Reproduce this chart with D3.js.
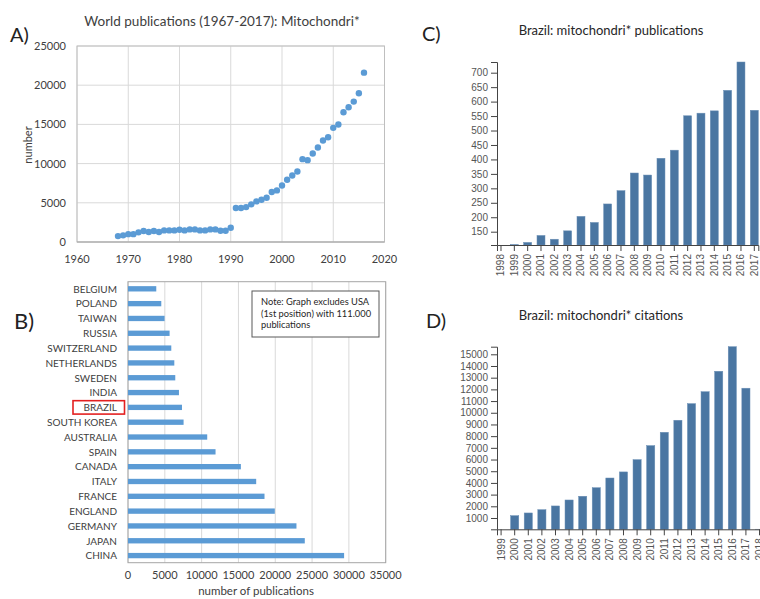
<!DOCTYPE html>
<html><head><meta charset="utf-8">
<script src="https://cdn.jsdelivr.net/npm/d3@7"></script>
<style>
body{margin:0;background:#fff;}
svg{display:block;font-family:Lato,"Open Sans",sans-serif;}
</style></head>
<body><svg id="c" width="760" height="599"></svg>
<script>
// ---- Panel A: world publications per year ----
const worldYears = d3.range(1968, 2017);
const worldCounts = [750,850,1000,1000,1230,1400,1270,1400,1270,1480,1480,1480,1570,1480,1610,1610,1480,1480,1610,1610,1440,1440,1820,
  4330,4330,4450,4800,5180,5390,5650,6370,6580,7210,7940,8490,9000,10570,10440,11290,12050,12940,13370,14560,14980,16550,17190,17910,18970,21600];
const worldXTicks = [1960,1970,1980,1990,2000,2010,2020];
const worldYTicks = [0,5000,10000,15000,20000,25000];

// ---- Panel B: publications by country ----
const countries = ["BELGIUM","POLAND","TAIWAN","RUSSIA","SWITZERLAND","NETHERLANDS","SWEDEN","INDIA","BRAZIL","SOUTH KOREA","AUSTRALIA","SPAIN","CANADA","ITALY","FRANCE","ENGLAND","GERMANY","JAPAN","CHINA"];
const countryCounts = [3840,4520,4970,5650,5880,6290,6420,6920,7330,7550,10760,11890,15330,17410,18540,19940,22880,24010,29350];
const countryTicks = [0,5000,10000,15000,20000,25000,30000,35000];
const noteLines = ["Note: Graph excludes USA","(1st position) with 111.000","publications"];

// ---- Panel C: Brazil publications ----
const brYearsPub = ["1998","1999","2000","2001","2002","2003","2004","2005","2006","2007","2008","2009","2010","2011","2012","2013","2014","2015","2016","2017"];
const brPubs = [104,105,113,137,124,153,203,182,246,292,353,346,404,432,551,560,568,639,737,570];

// ---- Panel D: Brazil citations ----
const brYearsCit = ["1999","2000","2001","2002","2003","2004","2005","2006","2007","2008","2009","2010","2011","2012","2013","2014","2015","2016","2017","2018"];
const brCits = [33,1200,1430,1710,2030,2540,2860,3590,4420,4940,5990,7190,8330,9360,10780,11800,13550,15650,12100,40];

const svg = d3.select("#c");

// ===== Panel A =====
{
  const g = svg.append("g");
  const x = d3.scaleLinear().domain([1960,2020]).range([77,384.5]);
  const y = d3.scaleLinear().domain([0,25000]).range([242,46]);
  g.selectAll("line.vg").data(worldXTicks).join("line")
    .attr("x1",d=>x(d)).attr("x2",d=>x(d)).attr("y1",y(0)).attr("y2",y(25000))
    .attr("stroke","#d9d9d9").attr("stroke-width",1);
  g.selectAll("line.hg").data(worldYTicks).join("line")
    .attr("x1",x(1960)).attr("x2",x(2020)).attr("y1",d=>y(d)).attr("y2",d=>y(d))
    .attr("stroke","#d9d9d9").attr("stroke-width",1);
  g.append("rect").attr("x",x(1960)).attr("y",y(25000)).attr("width",x(2020)-x(1960)).attr("height",y(0)-y(25000))
    .attr("fill","none").attr("stroke","#bfbfbf");
  g.append("line").attr("x1",x(1960)).attr("x2",x(2020)).attr("y1",y(0)).attr("y2",y(0)).attr("stroke","#a6a6a6");
  g.selectAll("text.yt").data(worldYTicks).join("text")
    .attr("x",66).attr("y",d=>y(d)+4).attr("text-anchor","end")
    .attr("font-size",11).attr("fill","#404040").text(d=>d);
  g.selectAll("text.xt").data(worldXTicks).join("text")
    .attr("x",d=>x(d)).attr("y",263).attr("text-anchor","middle")
    .attr("font-size",11).attr("fill","#404040").text(d=>d);
  g.selectAll("circle").data(worldYears).join("circle")
    .attr("cx",d=>x(d)).attr("cy",(d,i)=>y(worldCounts[i])).attr("r",3.2).attr("fill","#5b9bd5");
  g.append("text").attr("transform","translate(32,145) rotate(-90)").attr("text-anchor","middle")
    .attr("font-size",11).attr("fill","#404040").text("number");
  g.append("text").attr("x",222).attr("y",26).attr("text-anchor","middle").attr("font-size",13.5)
    .attr("fill","#404040").text("World publications (1967-2017): Mitochondri*");
  g.append("text").attr("x",10).attr("y",42).attr("font-size",20).attr("fill","#222").text("A)");
}

// ===== Panel B =====
{
  const g = svg.append("g");
  const x = d3.scaleLinear().domain([0,35000]).range([128,385.7]);
  const y = d3.scaleBand().domain(countries).range([281.7,562.7]).paddingInner(0.64).paddingOuter(0.3);
  g.selectAll("line.vg").data(countryTicks).join("line")
    .attr("x1",d=>x(d)).attr("x2",d=>x(d)).attr("y1",281.7).attr("y2",562.7)
    .attr("stroke","#d9d9d9");
  g.append("rect").attr("x",128).attr("y",281.7).attr("width",385.7-128).attr("height",562.7-281.7)
    .attr("fill","none").attr("stroke","#a6a6a6");
  g.selectAll("rect.bar").data(countries).join("rect").attr("class","bar")
    .attr("x",x(0)).attr("y",d=>y(d)).attr("height",y.bandwidth())
    .attr("width",(d,i)=>x(countryCounts[i])-x(0)).attr("fill","#5b9bd5");
  g.selectAll("text.lab").data(countries).join("text")
    .attr("x",117).attr("y",d=>y(d)+y.bandwidth()/2+3.8).attr("text-anchor","end")
    .attr("font-size",10).attr("fill","#404040").text(d=>d);
  g.append("rect").attr("x",73).attr("y",y("BRAZIL")+y.bandwidth()/2-6.7).attr("width",51.5).attr("height",13.4)
    .attr("fill","none").attr("stroke","#e32020").attr("stroke-width",1.6);
  g.selectAll("text.xt").data(countryTicks).join("text")
    .attr("x",d=>x(d)).attr("y",579).attr("text-anchor","middle")
    .attr("font-size",11).attr("fill","#404040").text(d=>d);
  g.append("text").attr("x",256).attr("y",595).attr("text-anchor","middle")
    .attr("font-size",11.5).attr("fill","#404040").text("number of publications");
  g.append("rect").attr("x",252).attr("y",291).attr("width",127).attr("height",46)
    .attr("fill","#fff").attr("stroke","#595959");
  g.selectAll("text.note").data(noteLines).join("text")
    .attr("x",261).attr("y",(d,i)=>305+i*11.5).attr("font-size",9.3).attr("fill","#262626").text(d=>d);
  g.append("text").attr("x",14).attr("y",329).attr("font-size",22).attr("fill","#222").text("B)");
}

// ===== helper for C and D =====
function brazilPanel(years, vals, xr, yr, ticksN, title, titleX, titleY, label, labelX, labelY){
  const g = svg.append("g");
  const x = d3.scaleBand().domain(years).range(xr).paddingInner(0.4).paddingOuter(0);
  const y = d3.scaleLinear().domain([d3.min(vals), d3.max(vals)]).range(yr);
  g.selectAll("rect").data(years).join("rect")
    .attr("x",d=>x(d)).attr("width",x.bandwidth())
    .attr("y",(d,i)=>y(vals[i])).attr("height",(d,i)=>yr[0]-y(vals[i]))
    .attr("fill","#4a76a2").attr("stroke","#6b8fb5").attr("stroke-width",0.5);
  const ya = g.append("g").attr("transform",`translate(${xr[0]},0)`).call(d3.axisLeft(y).ticks(ticksN).tickFormat(d3.format("d")));
  const xa = g.append("g").attr("transform",`translate(0,${yr[0]})`).call(d3.axisBottom(x));
  [ya,xa].forEach(a=>{
    a.selectAll("path,line").attr("stroke","#444");
    a.selectAll("text").attr("fill","#555").attr("font-size",10).attr("font-family","'Liberation Sans',Arial,sans-serif");
  });
  xa.selectAll("text").attr("y",0).attr("x",-9).attr("dy","0.35em")
    .attr("transform","rotate(-90)").attr("text-anchor","end");
  g.append("text").attr("x",titleX).attr("y",titleY).attr("text-anchor","middle")
    .attr("font-size",13).attr("fill","#262626").text(title);
  g.append("text").attr("x",labelX).attr("y",labelY).attr("font-size",20).attr("fill","#222").text(label);
}
brazilPanel(brYearsPub, brPubs, [497,758.3], [245,62], 12, "Brazil: mitochondri* publications", 611, 35, "C)", 422, 41);
brazilPanel(brYearsCit, brCits, [497,763.6], [529.3,346.7], 15, "Brazil: mitochondri* citations", 601, 320, "D)", 426, 328);
</script></body></html>
